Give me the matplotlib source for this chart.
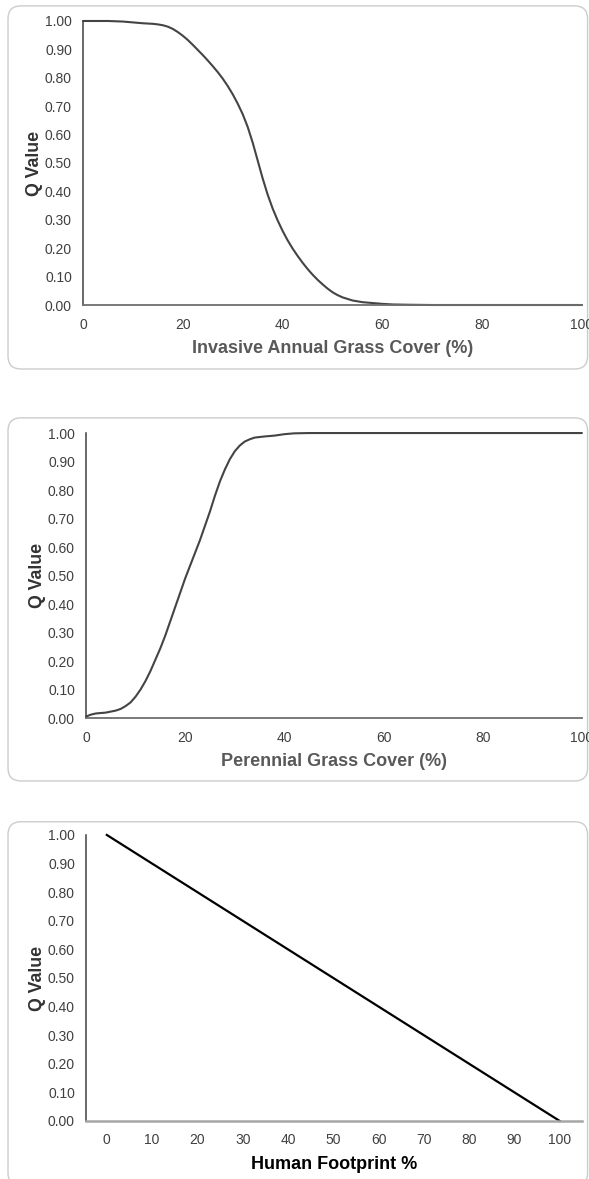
"""
Q value response curves for three habitat indicators.
"""

import matplotlib
matplotlib.use("Agg")
import matplotlib.pyplot as plt
from matplotlib.patches import FancyBboxPatch

plt.rcParams["font.family"] = ["Liberation Sans", "DejaVu Sans"]

# ── Data ────────────────────────────────────────────────────────────────
iag_cover = [0, 5, 8, 10, 12, 14, 15, 16, 17, 18, 19, 20, 21, 22, 23, 24,
             25, 26, 27, 28, 29, 30, 31, 32, 33, 34, 35, 36, 37, 38, 39,
             40, 41, 42, 43, 44, 45, 46, 47, 48, 49, 50, 51, 52, 54, 56,
             58, 60, 62, 65, 70, 100]
iag_q = [1.000, 1.000, 0.998, 0.995, 0.992, 0.990, 0.988, 0.985, 0.980,
         0.972, 0.961, 0.948, 0.933, 0.916, 0.898, 0.880, 0.861, 0.841,
         0.820, 0.797, 0.771, 0.742, 0.709, 0.672, 0.627, 0.572, 0.509,
         0.446, 0.389, 0.340, 0.298, 0.261, 0.228, 0.199, 0.173, 0.149,
         0.127, 0.107, 0.089, 0.073, 0.058, 0.045, 0.035, 0.027, 0.016,
         0.010, 0.007, 0.004, 0.002, 0.001, 0.000, 0.000]

pg_cover = [0, 1, 2, 4, 6, 7, 8, 9, 10, 11, 12, 13, 14, 15, 16, 17, 18,
            19, 20, 21, 22, 23, 24, 25, 26, 27, 28, 29, 30, 31, 32, 33,
            34, 36, 38, 40, 42, 45, 100]
pg_q = [0.005, 0.012, 0.016, 0.019, 0.026, 0.032, 0.042, 0.055, 0.075,
        0.100, 0.130, 0.165, 0.205, 0.245, 0.290, 0.340, 0.390, 0.440,
        0.490, 0.535, 0.580, 0.625, 0.675, 0.725, 0.780, 0.830, 0.872,
        0.908, 0.936, 0.956, 0.970, 0.978, 0.984, 0.988, 0.991, 0.996,
        0.999, 1.000, 1.000]

hf_pct = [0, 10, 20, 30, 40, 50, 60, 70, 80, 90, 100]
hf_q = [1.0, 0.9, 0.8, 0.7, 0.6, 0.5, 0.4, 0.3, 0.2, 0.1, 0.0]

y_ticks = [0.0, 0.1, 0.2, 0.3, 0.4, 0.5, 0.6, 0.7, 0.8, 0.9, 1.0]

TICK_C = "#404040"

fig = plt.figure(figsize=(5.89, 11.79), dpi=100)

# rounded frames around each panel (drawn behind the axes)
for bottom, height in [(0.687, 0.308), (0.3376, 0.308), (-0.006, 0.309)]:
    fig.patches.append(FancyBboxPatch(
        (0.0136, bottom), 0.984, height,
        boxstyle="round,pad=0,rounding_size=0.022", mutation_aspect=0.5,
        transform=fig.transFigure, facecolor="none",
        edgecolor="#cccccc", linewidth=1.0, zorder=-5))


def style_axes(ax, xlabel, xlabel_color, bottom_color, bottom_lw):
    for s in ["top", "right"]:
        ax.spines[s].set_visible(False)
    ax.spines["left"].set_color("#404040")
    ax.spines["left"].set_linewidth(1.1)
    ax.spines["bottom"].set_color(bottom_color)
    ax.spines["bottom"].set_linewidth(bottom_lw)
    ax.set_ylim(0, 1.0)
    ax.spines["left"].set_bounds(0, 1.0)
    ax.set_yticks(y_ticks)
    ax.set_yticklabels([f"{v:.2f}" for v in y_ticks])
    ax.tick_params(axis="both", length=0, labelsize=10, labelcolor=TICK_C)
    ax.tick_params(axis="y", pad=8)
    ax.tick_params(axis="x", pad=9)
    ax.set_ylabel("Q Value", fontsize=12.8, fontweight="bold",
                  color="#333333", labelpad=1)
    ax.set_xlabel(xlabel, fontsize=13, fontweight="bold",
                  color=xlabel_color, labelpad=6)
    ax.patch.set_alpha(0)


# ── Panel 1: invasive annual grass ──────────────────────────────────────
ax1 = fig.add_axes([0.141, 0.7413, 0.847, 0.2409])
ax1.plot(iag_cover, iag_q, color="#444444", linewidth=1.5,
         solid_capstyle="round", solid_joinstyle="round", clip_on=False)
ax1.set_xlim(0, 100)
ax1.set_xticks([0, 20, 40, 60, 80, 100])
style_axes(ax1, "Invasive Annual Grass Cover (%)", "#595959", "#6e6e6e", 1.3)

# ── Panel 2: perennial grass ────────────────────────────────────────────
ax2 = fig.add_axes([0.146, 0.391, 0.842, 0.2417])
ax2.plot(pg_cover, pg_q, color="#444444", linewidth=1.5,
         solid_capstyle="round", solid_joinstyle="round", clip_on=False)
ax2.set_xlim(0, 100)
ax2.set_xticks([0, 20, 40, 60, 80, 100])
style_axes(ax2, "Perennial Grass Cover (%)", "#595959", "#6e6e6e", 1.3)

# ── Panel 3: human footprint ────────────────────────────────────────────
ax3 = fig.add_axes([0.146, 0.0492, 0.842, 0.2426])
ax3.plot(hf_pct, hf_q, color="black", linewidth=1.6, clip_on=False)
ax3.set_xlim(-4.6, 104.9)
ax3.set_xticks(hf_pct)
style_axes(ax3, "Human Footprint %", "black", "#a6a6a6", 1.8)

fig.savefig("out.png", dpi=100)
